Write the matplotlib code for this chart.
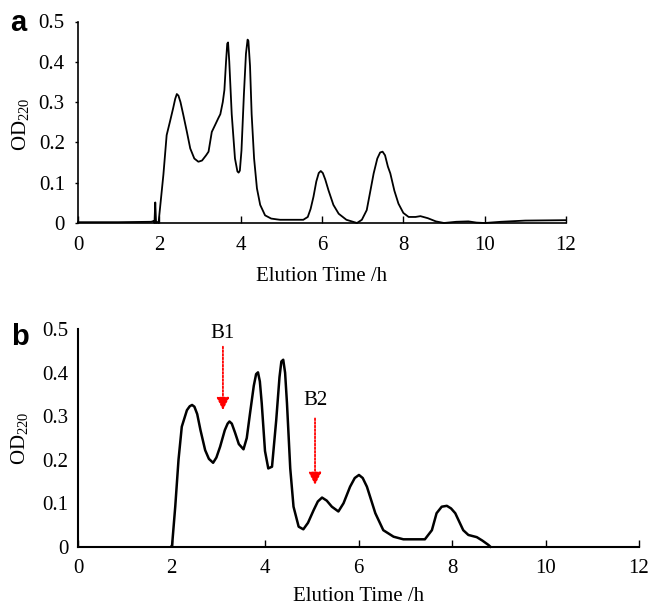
import matplotlib
matplotlib.use("Agg")
import matplotlib.pyplot as plt

plt.rcParams["font.family"] = ["Liberation Serif", "DejaVu Serif"]
plt.rcParams["mathtext.fontset"] = "custom"
plt.rcParams["mathtext.rm"] = "Liberation Serif"
plt.rcParams["font.size"] = 15

# panel a: elution profile (time in h, OD220)
time_a = [0.0, 1.0, 1.80, 1.86, 1.88, 1.90, 1.92, 1.95, 1.98,
          2.04, 2.10, 2.18, 2.26, 2.34, 2.39, 2.43, 2.47, 2.52, 2.59, 2.68, 2.76,
          2.86, 2.96, 3.05, 3.15, 3.21, 3.29, 3.38, 3.45, 3.50, 3.56,
          3.60, 3.64, 3.67, 3.69, 3.72, 3.78, 3.86, 3.92, 3.95, 3.98, 4.02, 4.08, 4.13,
          4.17, 4.19, 4.23, 4.27, 4.33, 4.40, 4.48, 4.60, 4.75, 4.89, 4.97,
          5.54, 5.65, 5.72, 5.79, 5.86, 5.92, 5.97, 6.02, 6.08, 6.16, 6.28, 6.41,
          6.60, 6.86, 6.98, 7.10, 7.19, 7.27, 7.36, 7.43, 7.49, 7.55, 7.62, 7.68,
          7.78, 7.88, 8.00, 8.13, 8.30, 8.42, 8.60, 8.80, 9.00, 9.30,
          9.60, 9.80, 10.0, 10.4, 11.0, 12.0]
od_a = [0.002, 0.002, 0.003, 0.005, 0.0, 0.051, 0.0, 0.002, 0.0,
        0.06, 0.12, 0.218, 0.251, 0.285, 0.308, 0.32, 0.316, 0.30, 0.268, 0.225, 0.185,
        0.16, 0.152, 0.155, 0.168, 0.177, 0.226, 0.245, 0.26, 0.27, 0.30,
        0.33, 0.40, 0.445, 0.448, 0.40, 0.27, 0.16, 0.128, 0.125, 0.13, 0.18, 0.32, 0.42,
        0.455, 0.452, 0.39, 0.27, 0.16, 0.086, 0.045, 0.019, 0.011, 0.009, 0.008,
        0.008, 0.015, 0.035, 0.065, 0.103, 0.124, 0.129, 0.124, 0.108, 0.081, 0.045, 0.023,
        0.008, 0.0, 0.008, 0.032, 0.08, 0.123, 0.16, 0.175, 0.177, 0.168, 0.140, 0.123,
        0.08, 0.048, 0.025, 0.015, 0.015, 0.017, 0.012, 0.004, 0.0, 0.003,
        0.004, 0.001, 0.0, 0.003, 0.006, 0.007]

# panel b: elution profile
time_b = [2.00, 2.01, 2.08, 2.15, 2.22, 2.33, 2.39, 2.44, 2.49, 2.55, 2.62,
          2.72, 2.80, 2.89, 2.96, 3.04, 3.14, 3.20, 3.24, 3.29, 3.36, 3.44, 3.54,
          3.61, 3.68, 3.76, 3.81, 3.85, 3.89, 3.93, 4.00, 4.07, 4.15, 4.24,
          4.31, 4.35, 4.39, 4.43, 4.47, 4.54, 4.61, 4.72, 4.82, 4.92, 5.04,
          5.13, 5.22, 5.32, 5.43, 5.57, 5.68, 5.82, 5.92, 6.01, 6.09,
          6.18, 6.36, 6.53, 6.75, 6.96, 7.42, 7.57, 7.67, 7.78, 7.89,
          7.98, 8.07, 8.24, 8.35, 8.53, 8.65, 8.78, 8.82]
od_b = [0.0, 0.0, 0.092, 0.20, 0.276, 0.314, 0.323, 0.326, 0.322, 0.305, 0.268,
        0.222, 0.202, 0.193, 0.205, 0.23, 0.268, 0.283, 0.288, 0.283, 0.262, 0.236, 0.224,
        0.25, 0.307, 0.37, 0.397, 0.401, 0.38, 0.33, 0.22, 0.18, 0.184, 0.291,
        0.39, 0.426, 0.43, 0.40, 0.33, 0.18, 0.092, 0.046, 0.04, 0.055, 0.084,
        0.104, 0.113, 0.106, 0.092, 0.081, 0.10, 0.138, 0.158, 0.165, 0.158,
        0.138, 0.077, 0.038, 0.023, 0.017, 0.017, 0.038, 0.077, 0.092, 0.094,
        0.088, 0.077, 0.038, 0.027, 0.022, 0.014, 0.004, 0.0]

# peak markers in panel b: label, time, arrow top, arrow tip
marker_names = ["B1", "B2"]
marker_time = [3.10, 5.07]
marker_top = [0.46, 0.295]
marker_tip = [0.314, 0.142]
marker_text_y = [0.491, 0.336]

x_ticks = [0, 2, 4, 6, 8, 10, 12]
y_ticks = [0, 0.1, 0.2, 0.3, 0.4, 0.5]
y_tick_labels = ["0", "0.1", "0.2", "0.3", "0.4", "0.5"]

W, H = 654, 606
fig = plt.figure(figsize=(W / 100, H / 100), dpi=100)
ax_a = fig.add_axes([78 / W, 1 - 223 / H, 488 / W, 201.5 / H])
ax_b = fig.add_axes([78 / W, 1 - 546.7 / H, 561 / W, 217.4 / H])


def style_axis(ax, spine_lw, ytick_len, xlabel_pad):
    for side in ("top", "right"):
        ax.spines[side].set_visible(False)
    for side in ("left", "bottom"):
        ax.spines[side].set_linewidth(spine_lw)
    ax.set_xlim(0, 12)
    ax.set_ylim(0, 0.5)
    ax.set_xticks(x_ticks)
    ax.set_xticklabels([str(t) for t in x_ticks])
    ax.set_yticks(y_ticks)
    ax.set_yticklabels(y_tick_labels)
    ax.tick_params(axis="x", direction="in", length=5, width=1, pad=9)
    ax.tick_params(axis="y", direction="out", length=ytick_len, width=1, pad=7)
    ax.set_yticks([0.5], minor=True)
    ax.tick_params(axis="y", which="minor", direction="in", length=5, width=1)
    ax.set_xlabel("Elution Time /h", labelpad=xlabel_pad)
    ax.set_ylabel(r"OD$_{\mathrm{220}}$")


ax_a.plot(time_a, od_a, color="black", lw=1.3, clip_on=False)
style_axis(ax_a, 1.2, 2.5, 9)
ax_a.yaxis.set_label_coords(-0.095, 0.49)

ax_b.plot(time_b, od_b, color="black", lw=1.8, clip_on=False)
style_axis(ax_b, 1.5, 0, 6)
ax_b.yaxis.set_label_coords(-0.083, 0.5)

for name, t, top, tip, ty in zip(marker_names, marker_time, marker_top,
                                 marker_tip, marker_text_y):
    ax_b.annotate("", xy=(t, tip), xytext=(t, top),
                  arrowprops=dict(arrowstyle="-|>,head_width=0.25,head_length=0.5",
                                  color="red", lw=1.3, linestyle=(0, (1, 1)),
                                  shrinkA=0, shrinkB=0))
    ax_b.text(t, ty, name, ha="center", va="center", fontsize=15)

fig.text(10 / W, 1 - 31 / H, "a", family="Liberation Sans", weight="bold",
         fontsize=21, va="baseline")
fig.text(11 / W, 1 - 345 / H, "b", family="Liberation Sans", weight="bold",
         fontsize=21, va="baseline")

fig.savefig("out.png", dpi=100)
